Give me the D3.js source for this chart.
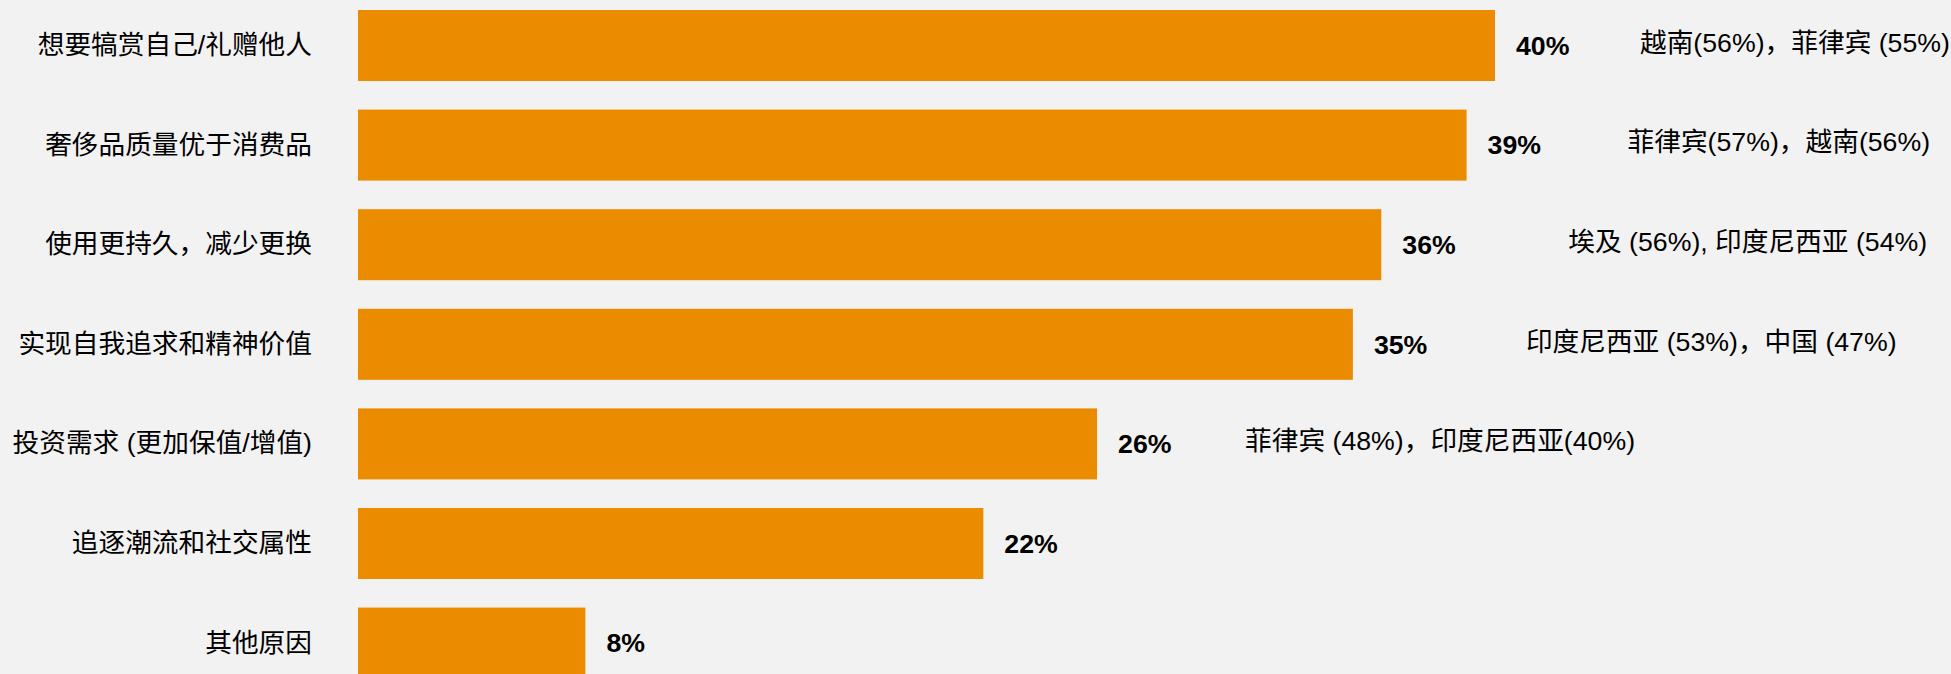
<!DOCTYPE html>
<html>
<head>
<meta charset="utf-8">
<script src="https://cdn.jsdelivr.net/npm/d3@7"></script>
<style>
  html, body { margin: 0; padding: 0; background: #f2f2f2; }
  svg { display: block; font-family: "Liberation Sans", Arial, "Noto Sans CJK SC", sans-serif; }
</style>
</head>
<body>
<div id="chart"></div>
<script>
// Reasons for buying luxury goods
const categories = [
  "想要犒赏自己/礼赠他人",
  "奢侈品质量优于消费品",
  "使用更持久，减少更换",
  "实现自我追求和精神价值",
  "投资需求 (更加保值/增值)",
  "追逐潮流和社交属性",
  "其他原因"
];
const values = [40, 39, 36, 35, 26, 22, 8];
const notes = [
  "越南(56%)，菲律宾 (55%)",
  "菲律宾(57%)，越南(56%)",
  "埃及 (56%), 印度尼西亚 (54%)",
  "印度尼西亚 (53%)，中国 (47%)",
  "菲律宾 (48%)，印度尼西亚(40%)",
  "",
  ""
];

// layout: gap between bar end and note text, per row
const noteGap = [145, 161, 187, 173, 148, 0, 0];

const width = 1951, height = 674;
const fontSize = "26.7px";

const rows = categories.map((c, i) => ({cat: c, value: values[i], note: notes[i], gap: noteGap[i]}));

const svg = d3.select("#chart")
  .append("svg")
    .attr("width", width)
    .attr("height", height);

svg.append("rect")
  .attr("width", width)
  .attr("height", height)
  .attr("fill", "#f2f2f2");

// Scales
const x = d3.scaleLinear()
  .domain([0, 40])
  .range([358, 1495]);

const y = d3.scaleBand()
  .domain(categories)
  .range([10, 678.6])
  .paddingInner(0.287)
  .paddingOuter(0);

// Category axis on the left, no line or ticks
const yAxis = svg.append("g")
  .attr("transform", "translate(322,0)")
  .call(d3.axisLeft(y).tickSize(0).tickPadding(10));
yAxis.select(".domain").remove();
yAxis.selectAll("text")
  .attr("font-family", "'Liberation Sans', Arial, 'Noto Sans CJK SC', sans-serif")
  .style("font-size", fontSize)
  .attr("fill", "#000");

// Bars
svg.selectAll("rect.bar")
  .data(rows)
  .enter()
  .append("rect")
    .attr("class", "bar")
    .attr("x", x(0))
    .attr("y", d => y(d.cat))
    .attr("width", d => x(d.value) - x(0))
    .attr("height", y.bandwidth())
    .attr("fill", "#eb8c00");

// Value labels
svg.selectAll("text.val")
  .data(rows)
  .enter()
  .append("text")
    .attr("class", "val")
    .attr("x", d => x(d.value) + 21)
    .attr("y", d => y(d.cat) + y.bandwidth() / 2)
    .attr("dy", "0.35em")
    .style("font-size", fontSize)
    .style("font-weight", "bold")
    .attr("fill", "#000")
    .text(d => d.value + "%");

// Top-country notes
svg.selectAll("text.note")
  .data(rows.filter(d => d.note))
  .enter()
  .append("text")
    .attr("class", "note")
    .attr("x", d => x(d.value) + d.gap)
    .attr("y", d => y(d.cat) + y.bandwidth() / 2 - 3)
    .attr("dy", "0.35em")
    .style("font-size", fontSize)
    .attr("fill", "#000")
    .text(d => d.note);
</script>
</body>
</html>
